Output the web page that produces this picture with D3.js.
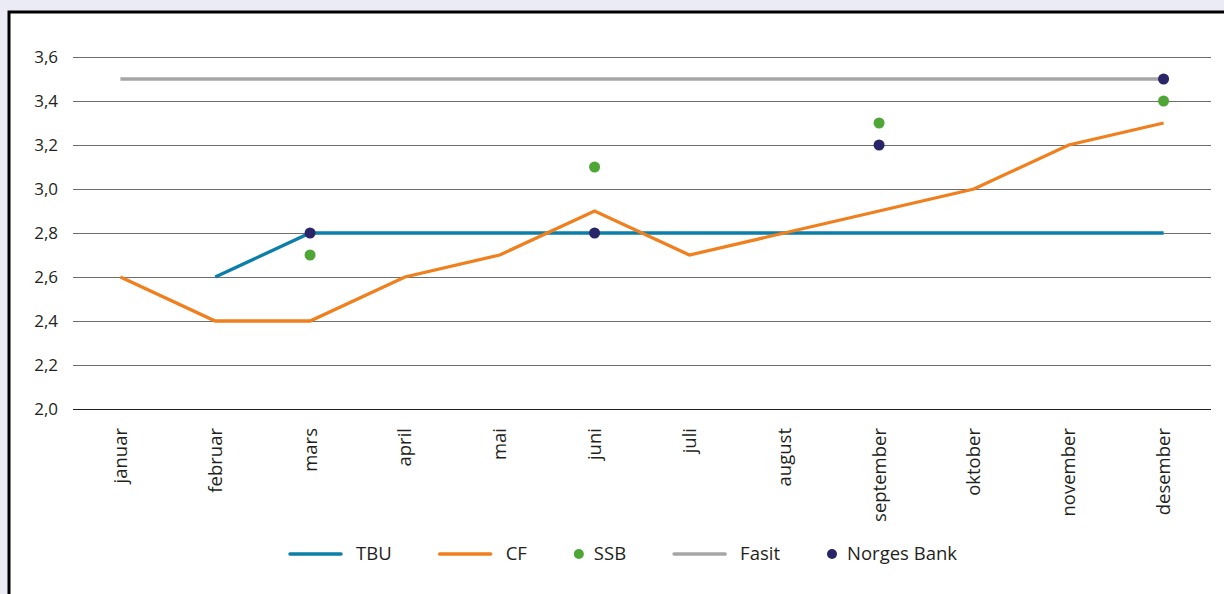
<!DOCTYPE html>
<html>
<head>
    <meta charset="UTF-8">
    <title>Prognoser</title>
    <script src="https://d3js.org/d3.v7.min.js"></script>
    <style>
        html, body { margin: 0; padding: 0; background: #ebebf5; }
        svg { display: block; }
    </style>
</head>
<body>
    <div id="chart"></div>

    <script type="text/javascript">
        const months = ["januar", "februar", "mars", "april", "mai", "juni", "juli",
                        "august", "september", "oktober", "november", "desember"];
        const yTicks = [2.0, 2.2, 2.4, 2.6, 2.8, 3.0, 3.2, 3.4, 3.6];

        const tbu   = [null, 2.6, 2.8, 2.8, 2.8, 2.8, 2.8, 2.8, 2.8, 2.8, 2.8, 2.8];
        const cf    = [2.6, 2.4, 2.4, 2.6, 2.7, 2.9, 2.7, 2.8, 2.9, 3.0, 3.2, 3.3];
        const fasit = [3.5, 3.5, 3.5, 3.5, 3.5, 3.5, 3.5, 3.5, 3.5, 3.5, 3.5, 3.5];
        const ssb   = [null, null, 2.7, null, null, 3.1, null, null, 3.3, null, null, 3.4];
        const norgesBank = [null, null, 2.8, null, null, 2.8, null, null, 3.2, null, null, 3.5];

        const colors = {
            tbu: "#0b7fa9",
            cf: "#f07f1d",
            ssb: "#4da635",
            fasit: "#a6a6a6",
            nb: "#2a2468"
        };

        const W = 1224, H = 594;
        const plot = { left: 73, right: 1211, top: 57, bottom: 409 };
        const font = "'Open Sans', sans-serif";
        const labelSize = 18.5;

        const svg = d3.select("#chart").append("svg")
            .attr("width", W)
            .attr("height", H)
            .attr("font-family", font);

        // frame
        svg.append("rect")
            .attr("x", 9).attr("y", 12)
            .attr("width", W + 20).attr("height", H + 20)
            .attr("fill", "white")
            .attr("stroke", "black")
            .attr("stroke-width", 3);

        const x = d3.scaleBand().domain(months).range([plot.left, plot.right]);
        const xc = m => x(m) + x.bandwidth() / 2;
        const y = d3.scaleLinear().domain([2.0, 3.6]).range([plot.bottom, plot.top]);

        // gridlines + y labels
        const yAxis = d3.axisLeft(y)
            .tickValues(yTicks)
            .tickSize(-(plot.right - plot.left))
            .tickPadding(15)
            .tickFormat(d => d3.format(".1f")(d).replace(".", ","));
        const gy = svg.append("g")
            .attr("transform", `translate(${plot.left},0)`)
            .call(yAxis);
        gy.select(".domain").remove();
        gy.selectAll(".tick line")
            .attr("stroke", d => d === 2.0 ? "#222" : "#6e6e6e")
            .attr("stroke-width", 1);
        gy.selectAll(".tick text")
            .attr("font-size", 17)
            .attr("font-family", font)
            .attr("fill", "#231f20");

        // x labels
        const xAxis = d3.axisBottom(x).tickSize(0).tickPadding(0);
        const gx = svg.append("g")
            .attr("transform", `translate(0,${plot.bottom})`)
            .call(xAxis);
        gx.select(".domain").remove();
        gx.selectAll(".tick text")
            .attr("font-size", labelSize)
            .attr("font-family", font)
            .attr("fill", "#231f20")
            .attr("transform", "rotate(-90)")
            .attr("text-anchor", "end")
            .attr("dy", "0.35em")
            .attr("x", -19)
            .attr("y", 0);

        const line = d3.line()
            .defined(d => d != null)
            .x((d, i) => xc(months[i]))
            .y(d => y(d));

        function drawLine(data, color) {
            svg.append("path")
                .datum(data)
                .attr("fill", "none")
                .attr("stroke", color)
                .attr("stroke-width", 3.3)
                .attr("stroke-linejoin", "miter")
                .attr("d", line);
        }

        drawLine(fasit, colors.fasit);
        drawLine(tbu, colors.tbu);
        drawLine(cf, colors.cf);

        function drawDots(data, color) {
            svg.append("g").selectAll("circle")
                .data(data.map((v, i) => ({ v: v, m: months[i] })).filter(d => d.v != null))
                .join("circle")
                .attr("cx", d => xc(d.m))
                .attr("cy", d => y(d.v))
                .attr("r", 5.5)
                .attr("fill", color);
        }

        drawDots(ssb, colors.ssb);
        drawDots(norgesBank, colors.nb);

        // legend
        const legendItems = [
            { name: "TBU", type: "line", color: colors.tbu },
            { name: "CF", type: "line", color: colors.cf },
            { name: "SSB", type: "dot", color: colors.ssb },
            { name: "Fasit", type: "line", color: colors.fasit },
            { name: "Norges Bank", type: "dot", color: colors.nb }
        ];

        const legend = svg.append("g");
        const ly = 554;
        let lx = 290;
        legendItems.forEach(item => {
            const g = legend.append("g");
            let textX;
            if (item.type === "line") {
                g.append("line")
                    .attr("x1", lx).attr("x2", lx + 51)
                    .attr("y1", ly).attr("y2", ly)
                    .attr("stroke", item.color)
                    .attr("stroke-width", 3.5)
                    .attr("stroke-linecap", "round");
                textX = lx + 66;
            } else {
                g.append("circle")
                    .attr("cx", lx + 4).attr("cy", ly)
                    .attr("r", 5)
                    .attr("fill", item.color);
                textX = lx + 19;
            }
            const t = g.append("text")
                .attr("x", textX)
                .attr("y", ly)
                .attr("dy", "0.35em")
                .attr("font-size", labelSize)
                .attr("fill", "#231f20")
                .text(item.name);
            lx = textX + t.node().getComputedTextLength() + 48;
        });
    </script>
</body>
</html>
